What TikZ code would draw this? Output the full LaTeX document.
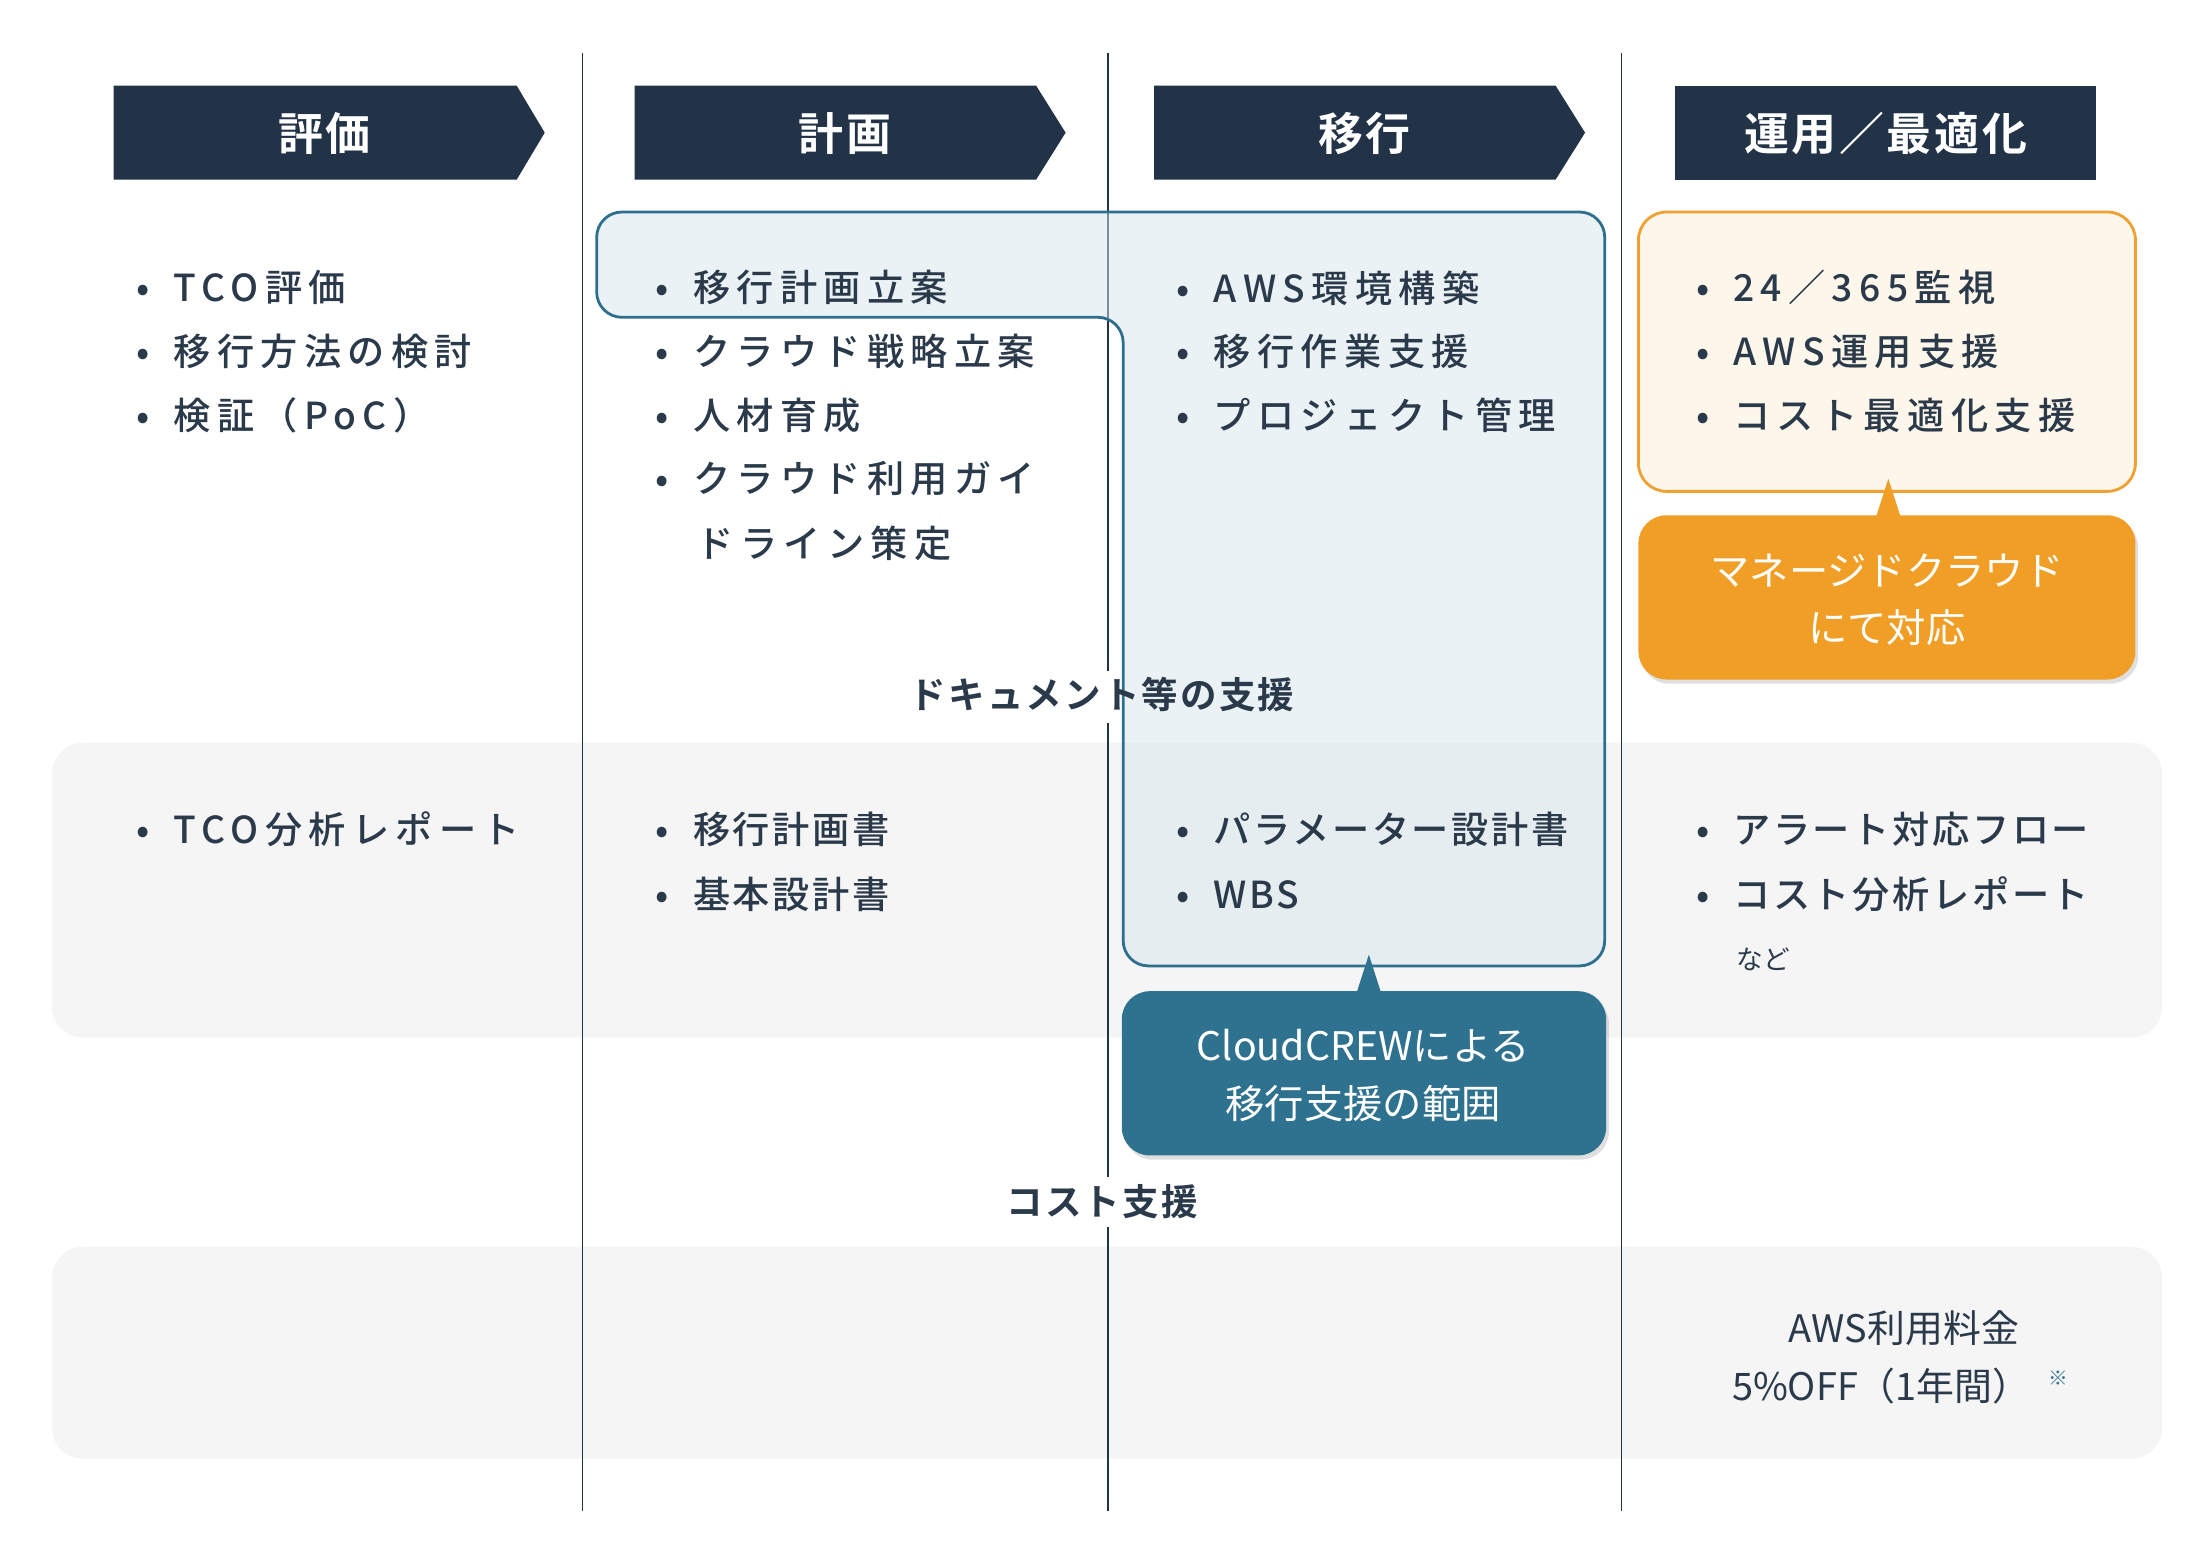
\documentclass[tikz,border=0pt]{standalone}
\usepackage{fontspec}
\setmainfont{Noto Sans CJK JP}
\newfontfamily\jpb[LetterSpace=6]{Noto Sans CJK JP Bold}
\newfontfamily\jpl[LetterSpace=17]{Noto Sans CJK JP Medium}
\newfontfamily\jpm[LetterSpace=7]{Noto Sans CJK JP Medium}
\usetikzlibrary{shadows}
\definecolor{navy}{HTML}{223348}
\definecolor{txt}{HTML}{2B3A4A}
\definecolor{teal}{HTML}{2E7290}
\definecolor{tealb}{HTML}{2E6F8E}
\definecolor{bluef}{HTML}{D6E6EE}
\definecolor{org}{HTML}{F19E27}
\definecolor{orgb}{HTML}{F0A030}
\definecolor{orgf}{HTML}{FDF6EA}
\definecolor{band}{HTML}{F5F5F5}
\begin{document}
\begin{tikzpicture}[x=1pt,y=-1pt,
  hdr/.style={fill=navy,draw=none},
  htxt/.style={text=white,font=\fontsize{32}{36}\jpb\selectfont},
  item/.style={anchor=west,text=txt,font=\fontsize{26.5}{30}\jpl\selectfont,inner sep=0},
  itemb/.style={anchor=west,text=txt,font=\fontsize{26.5}{30}\jpm\selectfont,inner sep=0},
  lab/.style={text=txt,font=\fontsize{26}{30}\jpb\selectfont,inner sep=2},
  call/.style={text=white,align=center,font=\fontsize{28}{41}\selectfont},
  vline/.style={draw=navy,line width=1.2pt}]
\useasboundingbox (0,0) rectangle (1567,1102.6);
% bands
\fill[band,rounded corners=22] (37,529) rectangle (1540,739);
\fill[band,rounded corners=22] (37,888) rectangle (1540,1039);
% vertical lines
\coordinate (v1t) at (415,38); \coordinate (v1b) at (415,1076);
\draw[vline] (v1t) -- (v1b);
\coordinate (v2a) at (789,38); \coordinate (v2b) at (789,478);
\coordinate (v2c) at (789,515); \coordinate (v2d) at (789,838);
\coordinate (v2e) at (789,874); \coordinate (v2f) at (789,1076);
\draw[vline] (v2a) -- (v2b) (v2c) -- (v2d) (v2e) -- (v2f);
\coordinate (v3t) at (1155,38); \coordinate (v3b) at (1155,1076);
\draw[vline] (v3t) -- (v3b);
% headers
\fill[hdr] (81,61) -- (368,61) -- (388,94.5) -- (368,128) -- (81,128) -- cycle;
\fill[hdr] (452,61) -- (738,61) -- (759,94.5) -- (738,128) -- (452,128) -- cycle;
\fill[hdr] (822,61) -- (1108,61) -- (1129,94.5) -- (1108,128) -- (822,128) -- cycle;
\fill[hdr] (1193,61) rectangle (1493,128);
\node[htxt] (h1) at (231,95) {評価};
\node[htxt] (h2) at (602,95) {計画};
\node[htxt] (h3) at (972,95) {移行};
\node[htxt] (h4) at (1343,95) {運用／最適化};
% blue region
\draw[draw=tealb,line width=2pt,fill=bluef,fill opacity=0.5,rounded corners=18]
 (425,151) -- (1143,151) -- (1143,688) -- (800,688) -- (800,226) -- (425,226) -- cycle;
% orange box
\draw[draw=orgb,line width=2pt,fill=orgf,rounded corners=20] (1167,151) rectangle (1521,350);
% callouts
\fill[teal,rounded corners=20,drop shadow={opacity=0.25,shadow xshift=2pt,shadow yshift=-3pt}] (799,706) rectangle (1144,823);
\fill[teal] (966,708) -- (975,680) -- (984,708) -- cycle;
\node[call] (c1) at (971,766) {CloudCREWによる\\移行支援の範囲};
\fill[org,rounded corners=20,drop shadow={opacity=0.25,shadow xshift=2pt,shadow yshift=-3pt}] (1167,367) rectangle (1521,484);
\fill[org] (1336,369) -- (1345,341) -- (1354,369) -- cycle;
\node[call] (c2) at (1344,427) {マネージドクラウド\\にて対応};
% labels
\node[lab] (l1) at (785,495) {ドキュメント等の支援};
\node[lab] (l2) at (785,856) {コスト支援};
% items
\node[item] (a1) at (97,205) {•\hspace{17pt}TCO評価};
\node[item] (a2) at (97,250) {•\hspace{17pt}移行方法の検討};
\node[item] (a3) at (97,296) {•\hspace{17pt}検証（PoC）};
\node[item] (b1) at (467,205) {•\hspace{17pt}移行計画立案};
\node[item] (b2) at (467,250) {•\hspace{17pt}クラウド戦略立案};
\node[item] (b3) at (467,296) {•\hspace{17pt}人材育成};
\node[item] (b4) at (467,341) {•\hspace{17pt}クラウド利用ガイ};
\node[item] (b5) at (496,387) {ドライン策定};
\node[item] (c1i) at (838,205) {•\hspace{17pt}AWS環境構築};
\node[item] (c2i) at (838,250) {•\hspace{17pt}移行作業支援};
\node[item] (c3i) at (838,296) {•\hspace{17pt}プロジェクト管理};
\node[item] (d1) at (1208,205) {•\hspace{17pt}24／365監視};
\node[item] (d2) at (1208,250) {•\hspace{17pt}AWS運用支援};
\node[item] (d3) at (1208,296) {•\hspace{17pt}コスト最適化支援};
\node[item] (e1) at (97,591) {•\hspace{17pt}TCO分析レポート};
\node[itemb] (f1) at (467,591) {•\hspace{17pt}移行計画書};
\node[itemb] (f2) at (467,637) {•\hspace{17pt}基本設計書};
\node[itemb] (g1) at (838,591) {•\hspace{17pt}パラメーター設計書};
\node[itemb] (g2) at (838,637) {•\hspace{17pt}WBS};
\node[itemb] (k1) at (1208,591) {•\hspace{17pt}アラート対応フロー};
\node[itemb] (k2) at (1208,637) {•\hspace{17pt}コスト分析レポート};
\node[anchor=west,text=txt,font=\fontsize{19}{22}\selectfont,inner sep=0] (k3) at (1237,683) {など};
\node[text=txt,font=\fontsize{27}{30}\selectfont,inner sep=0] (m1) at (1356,946) {AWS利用料金};
\node[text=txt,font=\fontsize{27}{30}\selectfont,inner sep=0] (m2) at (1340,987) {5\%OFF（1年間）};
\node[text=teal,font=\fontsize{14}{16}\selectfont,inner sep=0] (m3) at (1466,982) {※};
\end{tikzpicture}
\end{document}
